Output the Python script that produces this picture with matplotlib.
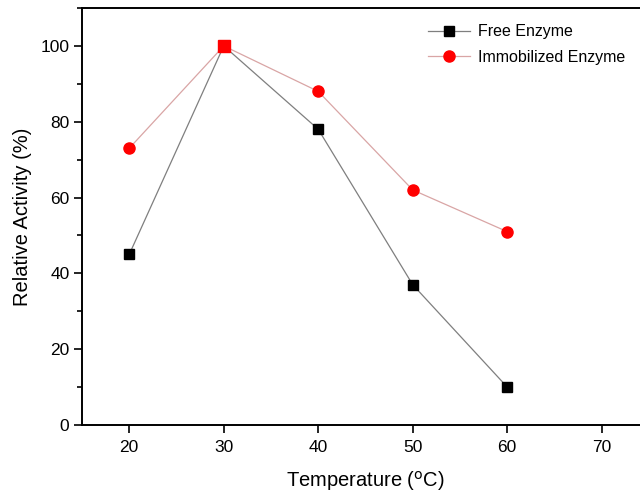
import numpy as np
import matplotlib
matplotlib.use("Agg")
import matplotlib.pyplot as plt
from matplotlib.ticker import MultipleLocator

plt.rcParams.update({
    "font.family": ["Liberation Sans", "DejaVu Sans"],
    "font.size": 12,
})

temps = [20, 30, 40, 50, 60]
free_enzyme = [45, 100, 78, 37, 10]
immob_enzyme = [73, 100, 88, 62, 51]

fig = plt.figure(figsize=(6.4, 5.0), dpi=100)
# axes run slightly past the right edge, as in the cropped original
ax = fig.add_axes([82 / 640, 75 / 500, 567 / 640, 417 / 500])

ax.plot(temps, free_enzyme, color="#7f7f7f", lw=0.9, marker="s", ms=7,
        mfc="black", mec="black", label="Free Enzyme")
ax.plot(temps, immob_enzyme, color="#d9a5a5", lw=0.9, marker="o", ms=8,
        mfc="red", mec="red", label="Immobilized Enzyme")

# where the two series coincide the original shows a red square
t = np.array(temps); f = np.array(free_enzyme); m = np.array(immob_enzyme)
same = f == m
ax.plot(t[same], m[same], ls="none", marker="s", ms=8, mfc="red", mec="red")

ax.set_xlim(15, 75)
ax.set_ylim(0, 110)
ax.set_xticks([20, 30, 40, 50, 60, 70])
ax.yaxis.set_major_locator(MultipleLocator(20))
ax.yaxis.set_minor_locator(MultipleLocator(10))
ax.tick_params(direction="out", length=6, width=1.2, labelsize=12.5)
ax.tick_params(axis="x", pad=5)
ax.tick_params(axis="y", pad=3)
ax.tick_params(which="minor", direction="out", length=3.5, width=1.2)
ax.tick_params(top=False, right=False)
for s in ax.spines.values():
    s.set_linewidth(1.4)

ax.set_xlabel("Temperature ($^{\\mathrm{o}}$C)", fontsize=14.5, labelpad=10)
ax.set_ylabel("Relative Activity (%)", fontsize=14.5, labelpad=6)

ax.legend(loc="upper left", bbox_to_anchor=(0.585, 0.995), frameon=False,
          fontsize=11.5, handlelength=2.6, handletextpad=0.5,
          labelspacing=0.65)

fig.savefig("out.png", dpi=100)
